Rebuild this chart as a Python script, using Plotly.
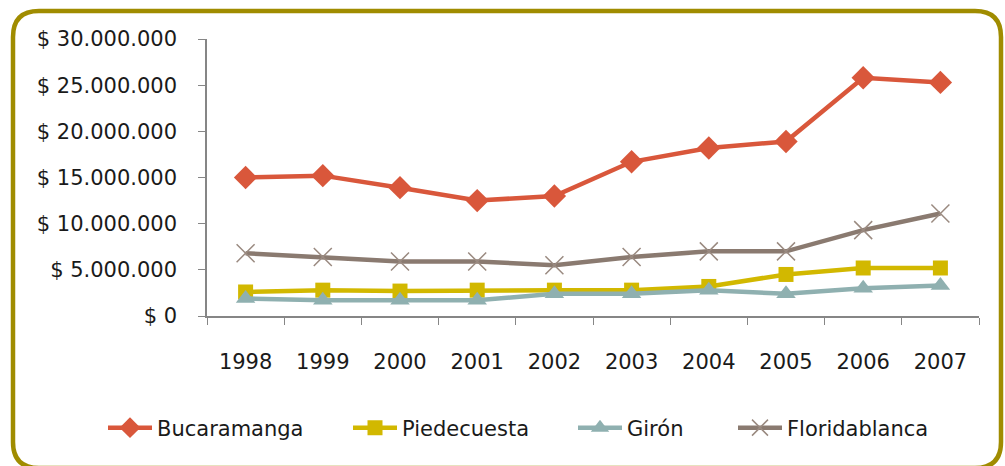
import plotly.graph_objects as go

years = ["1998", "1999", "2000", "2001", "2002", "2003", "2004", "2005", "2006", "2007"]
bucaramanga = [15.0e6, 15.2e6, 13.9e6, 12.5e6, 13.0e6, 16.7e6, 18.2e6, 18.9e6, 25.8e6, 25.3e6]
piedecuesta = [2.6e6, 2.8e6, 2.7e6, 2.8e6, 2.8e6, 2.8e6, 3.2e6, 4.5e6, 5.2e6, 5.2e6]
giron = [1.9e6, 1.7e6, 1.7e6, 1.7e6, 2.4e6, 2.4e6, 2.8e6, 2.4e6, 3.0e6, 3.3e6]
floridablanca = [6.8e6, 6.4e6, 5.9e6, 5.9e6, 5.5e6, 6.4e6, 7.0e6, 7.0e6, 9.3e6, 11.1e6]
ytick_vals = [0, 5e6, 10e6, 15e6, 20e6, 25e6, 30e6]
ytick_text = ["$ 0", "$ 5.000.000", "$ 10.000.000", "$ 15.000.000", "$ 20.000.000", "$ 25.000.000", "$ 30.000.000"]

W, H = 1005, 466
ML, MR, MT, MB = 207, 26, 39, 150
PW, PH = W - ML - MR, H - MT - MB

FONT = "DejaVu Sans"
TXT = "#1a1a1a"

def px2paper(px, py):
    return (px - ML) / PW, (MT + PH - py) / PH

fig = go.Figure()
series = [
    ("Bucaramanga", bucaramanga, "#D9573B", dict(symbol="diamond", size=18), 123),
    ("Piedecuesta", piedecuesta, "#D2B800", dict(symbol="square", size=15), 368),
    ("Girón", giron, "#8FB0B0", dict(symbol="triangle-up", size=17), 593),
    ("Floridablanca", floridablanca, "#8A7A70", dict(symbol="x-thin", size=18, line=dict(width=1.5, color="#9A8A80")), 753),
]
legends = {}
for i, (name, vals, color, mk, lx) in enumerate(series):
    lg = "legend" if i == 0 else "legend%d" % (i + 1)
    marker = dict(color=color, **mk)
    fig.add_trace(go.Scatter(x=years, y=vals, name=name, mode="lines+markers", legend=lg,
                             line=dict(color=color, width=4.5), marker=marker))
    px_, py_ = px2paper(lx - 20, 428)
    legends[lg] = dict(orientation="h", x=px_, xanchor="left", y=py_, yanchor="middle",
                       font=dict(family=FONT, size=21, color=TXT), itemwidth=44,
                       bgcolor="rgba(0,0,0,0)", borderwidth=0)

x0, y0, x1, y1, r = 13, 11, 1001, 468, 26
pts = [
    ("M", [(x0 + r, y0)]),
    ("L", [(x1 - r, y0)]),
    ("Q", [(x1, y0), (x1, y0 + r)]),
    ("L", [(x1, y1 - r)]),
    ("Q", [(x1, y1), (x1 - r, y1)]),
    ("L", [(x0 + r, y1)]),
    ("Q", [(x0, y1), (x0, y1 - r)]),
    ("L", [(x0, y0 + r)]),
    ("Q", [(x0, y0), (x0 + r, y0)]),
]
path = ""
for cmd, ps in pts:
    path += cmd + " " + " ".join("%.5f,%.5f" % px2paper(a, b) for a, b in ps) + " "
path += "Z"
fig.add_shape(type="path", path=path, xref="paper", yref="paper",
              line=dict(color="#A08C00", width=4.5), fillcolor="rgba(0,0,0,0)", layer="above")

fig.update_layout(
    width=W, height=H,
    margin=dict(l=ML, r=MR, t=MT, b=MB, autoexpand=False),
    paper_bgcolor="white", plot_bgcolor="white",
    font=dict(family=FONT, size=21, color=TXT),
    showlegend=True,
    **legends,
)
fig.update_xaxes(type="category", range=[-0.5, 9.5], showgrid=False, showline=True,
                 linecolor="#868686", linewidth=1.5, ticks="outside", ticklen=7,
                 tickcolor="#868686", tickson="boundaries", ticklabelstandoff=26,
                 tickfont=dict(family=FONT, size=21, color=TXT))
fig.update_yaxes(range=[0, 30e6], tickvals=ytick_vals, ticktext=ytick_text, showgrid=False,
                 zeroline=False, showline=True, linecolor="#868686", linewidth=1.5,
                 ticks="outside", ticklen=7, tickcolor="#868686", ticklabelstandoff=17,
                 tickfont=dict(family=FONT, size=21, color=TXT))

fig.write_html("out.html", config={"displayModeBar": False},
               post_script="document.body.style.margin='0';document.body.style.overflow='hidden';")
